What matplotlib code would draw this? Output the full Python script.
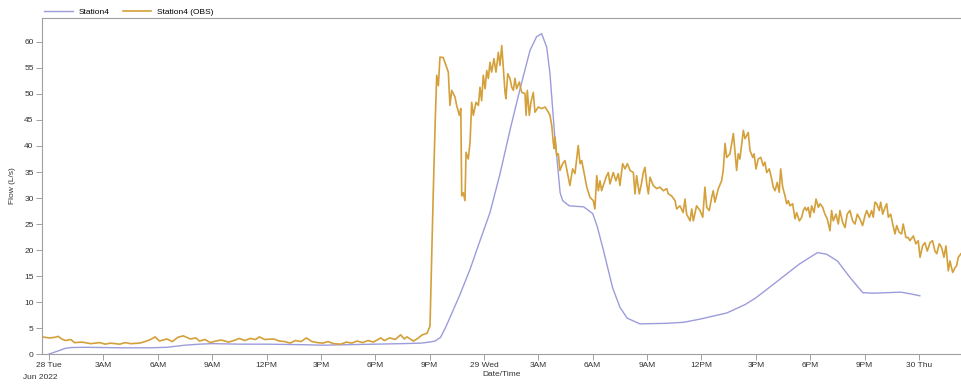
import matplotlib
matplotlib.use("Agg")
import matplotlib.pyplot as plt
import matplotlib.dates as mdates
import pandas as pd

# hours since 28 Jun 2022 00:00
start = pd.Timestamp("2022-06-28 00:00")

model_hours = [0.0, 0.5, 0.9, 1.2, 2.0, 4.0, 5.6, 6.5, 7.0, 7.5, 8.3, 9.0, 10.5,
               12.0, 14.0, 15.1, 16.5, 18.0, 19.5, 20.5, 21.0, 21.3, 21.6, 21.85,
               22.12, 22.68, 23.23, 23.78, 24.33, 24.88, 25.43, 25.99, 26.54, 26.9,
               27.18, 27.46, 27.64, 27.9, 28.0, 28.2, 28.34, 28.7, 29.5,
               30.0, 30.25, 30.6, 31.1, 31.5, 31.9, 32.6, 34.0, 35.0, 35.9, 37.4,
               38.4, 39.0, 40.0, 41.4, 42.4, 42.9, 43.5, 44.2, 44.9, 45.5, 47.0,
               47.5, 48.05]
model_flow = [0.0, 0.6, 1.1, 1.25, 1.3, 1.2, 1.2, 1.3, 1.5, 1.7, 1.9, 2.0, 1.9,
              1.9, 1.8, 1.7, 1.8, 1.9, 2.0, 2.1, 2.3, 2.5, 3.2, 4.9,
              7.0, 11.5, 16.3, 21.8, 27.2, 34.6, 43.0, 51.0, 58.4, 61.0,
              61.6, 59.0, 53.9, 42.0, 38.5, 31.0, 29.5, 28.5, 28.3,
              27.0, 24.5, 19.8, 12.7, 9.0, 6.9, 5.8, 5.9, 6.1, 6.7, 7.9,
              9.5, 10.8, 13.5, 17.3, 19.5, 19.2, 17.9, 14.7, 11.8, 11.7, 11.9,
              11.6, 11.2]

obs_hours = [
    -0.39, 0.0, 0.3, 0.5, 0.7, 0.9, 1.2, 1.4, 1.8, 2.3, 2.8, 3.1, 3.4, 3.9, 4.2,
    4.5, 5.0, 5.3, 5.6, 5.85, 6.1, 6.5, 6.8, 7.1, 7.4, 7.8, 8.1, 8.3, 8.6, 8.9,
    9.2, 9.5, 9.9, 10.2, 10.5, 10.8, 11.1, 11.4, 11.6, 11.9, 12.4, 12.7, 13.0,
    13.3, 13.6, 13.9, 14.2, 14.5, 14.8, 15.1, 15.4, 15.7, 16.1, 16.4, 16.7, 17.0,
    17.3, 17.6, 17.9, 18.3, 18.5, 18.8, 19.1, 19.4, 19.6, 19.75, 20.1, 20.3, 20.6,
    20.86, 21.02, 21.2, 21.3, 21.39, 21.48, 21.57, 21.75, 21.9, 22.03, 22.12,
    22.22, 22.4, 22.49, 22.64, 22.72, 22.77, 22.86, 22.95, 23.01, 23.13, 23.23,
    23.32, 23.41, 23.56, 23.69, 23.78, 23.87, 23.96, 24.06, 24.15, 24.24, 24.33,
    24.42, 24.55, 24.66, 24.79, 24.88, 24.98, 25.07, 25.16, 25.21, 25.31, 25.43,
    25.53, 25.62, 25.71, 25.8, 25.95, 26.08, 26.26, 26.32, 26.39, 26.5, 26.59,
    26.72, 26.81, 27.0, 27.18, 27.37, 27.55, 27.64, 27.74, 27.82, 27.87, 27.92,
    28.01, 28.1, 28.19, 28.34, 28.47, 28.65, 28.74, 28.89, 29.02, 29.2, 29.3,
    29.39, 29.48, 29.67, 29.85, 30.03, 30.12, 30.22, 30.31, 30.4, 30.49, 30.58,
    30.77, 30.86, 30.95, 31.13, 31.28, 31.41, 31.5, 31.65, 31.78, 31.91, 32.06,
    32.24, 32.33, 32.42, 32.57, 32.7, 32.79, 32.88, 32.98, 33.07, 33.16, 33.34,
    33.53, 33.71, 33.89, 34.08, 34.17, 34.35, 34.54, 34.63, 34.81, 34.99, 35.09,
    35.18, 35.37, 35.46, 35.55, 35.73, 35.92, 36.07, 36.19, 36.29, 36.43, 36.56,
    36.65, 36.74, 36.93, 37.11, 37.2, 37.3, 37.39, 37.57, 37.76, 37.94, 38.03,
    38.12, 38.31, 38.4, 38.49, 38.58, 38.68, 38.83, 38.9, 39.01, 39.13, 39.27,
    39.41, 39.5, 39.6, 39.74, 39.87, 39.96, 40.06, 40.18, 40.29, 40.37, 40.48,
    40.61, 40.7, 40.79, 40.88, 41.03, 41.16, 41.25, 41.4, 41.53, 41.62, 41.71,
    41.8, 41.89, 41.99, 42.08, 42.21, 42.32, 42.45, 42.54, 42.69, 42.81, 42.94,
    43.09, 43.18, 43.27, 43.42, 43.55, 43.64, 43.79, 43.92, 44.04, 44.19, 44.34,
    44.47, 44.6, 44.74, 44.89, 45.02, 45.12, 45.26, 45.39, 45.48, 45.57, 45.67,
    45.81, 45.89, 46.0, 46.13, 46.22, 46.31, 46.44, 46.55, 46.68, 46.77, 46.91,
    47.04, 47.13, 47.28, 47.41, 47.5, 47.69, 47.83, 47.96, 48.06, 48.2, 48.33,
    48.46, 48.61, 48.75, 48.88, 48.98, 49.12, 49.25, 49.38, 49.49, 49.62, 49.71,
    49.86, 49.99, 50.08, 50.17, 50.32]
obs_flow = [
    3.3, 3.1, 3.2, 3.4, 2.9, 2.6, 2.8, 2.2, 2.3, 2.0, 2.2, 1.9, 2.1, 1.9, 2.2,
    2.0, 2.1, 2.4, 2.8, 3.3, 2.5, 2.9, 2.4, 3.2, 3.5, 2.9, 3.1, 2.5, 2.8, 2.2,
    2.5, 2.7, 2.3, 2.6, 3.0, 2.6, 3.0, 2.8, 3.3, 2.8, 2.9, 2.5, 2.4,
    2.1, 2.6, 2.4, 3.1, 2.4, 2.2, 2.1, 2.4, 2.0, 1.9, 2.3, 2.1, 2.5,
    2.2, 2.6, 2.3, 3.1, 2.6, 3.1, 2.8, 3.7, 2.9, 3.3, 2.5, 2.9, 3.7,
    4.0, 5.4, 31.0, 43.9, 53.6, 51.6, 57.1, 57.0, 55.5, 54.2, 47.8,
    50.7, 49.4, 47.8, 45.9, 47.2, 30.4, 31.0, 29.5, 38.8, 37.5, 40.7,
    48.4, 45.9, 48.4, 47.8, 51.3, 48.7, 53.6, 51.0, 54.5, 53.0, 56.1,
    54.2, 56.8, 54.2, 58.0, 55.5, 59.3, 54.9, 50.3, 49.1, 53.9, 53.0,
    51.3, 50.7, 53.0, 51.0, 52.3, 50.3, 50.1, 45.9, 50.7, 45.9, 48.4,
    50.3, 46.5, 47.5, 47.2, 47.5, 46.5, 45.9, 43.9, 40.7, 39.5, 41.7,
    38.2, 38.5, 35.3, 36.6, 37.2, 34.0, 32.4, 35.6, 34.7, 40.1, 36.6,
    37.2, 35.6, 32.1, 30.1, 29.5, 27.9, 34.3, 31.4, 33.3, 31.4, 32.4,
    34.3, 34.9, 32.7, 34.9, 33.3, 34.7, 32.4, 36.6, 35.6, 36.6, 35.3,
    34.9, 30.8, 34.3, 30.8, 33.0, 34.9, 35.9, 32.7, 30.8, 34.0, 32.4,
    31.8, 32.1, 31.4, 31.8, 30.8, 30.4, 29.5, 27.9, 28.5, 27.2, 29.8,
    26.9, 25.6, 27.9, 25.6, 28.5, 27.6, 26.3, 32.1, 28.2, 27.6, 30.1,
    31.4, 29.2, 31.8, 33.3, 35.3, 40.5, 37.8, 38.5, 42.4, 35.3, 38.5,
    37.5, 43.0, 41.4, 42.0, 42.6, 39.1, 37.8, 38.5, 35.6, 37.5, 37.8,
    36.2, 36.9, 34.9, 35.6, 33.7, 32.1, 31.4, 33.0, 31.1, 35.6, 32.1,
    30.4, 28.9, 29.5, 28.5, 28.9, 26.0, 27.2, 25.6, 26.3, 27.6, 28.2,
    27.6, 28.2, 26.3, 28.5, 27.2, 29.8, 28.2, 28.9, 28.2, 26.9, 26.0,
    23.7, 27.6, 25.6, 26.9, 25.0, 27.6, 25.3, 24.3, 26.9, 27.6, 25.6,
    25.0, 26.9, 26.0, 24.7, 26.6, 27.6, 26.3, 27.6, 26.3, 29.2, 28.9,
    27.6, 29.2, 26.9, 28.2, 28.9, 26.3, 26.9, 25.0, 23.1, 24.7, 23.4,
    23.1, 25.0, 22.4, 22.4, 21.8, 22.7, 21.2, 21.8, 18.6, 20.8, 21.4,
    19.8, 21.4, 21.8, 19.8, 19.3, 21.2, 20.5, 18.6, 20.8, 16.0, 17.9,
    15.7, 16.6, 17.0, 18.6, 19.3]

model_time = start + pd.to_timedelta(model_hours, unit="h")
obs_time = start + pd.to_timedelta(obs_hours, unit="h")

plt.rcParams["font.family"] = ["Liberation Sans", "DejaVu Sans"]
plt.rcParams["font.size"] = 6

fig = plt.figure(figsize=(9.61, 3.84), dpi=100)
ax = fig.add_axes([0.0437, 0.078, 0.9563, 0.875])

ax.plot(model_time, model_flow, color="#9c9cdc", lw=1.0, label="Station4")
ax.plot(obs_time, obs_flow, color="#d4a03a", lw=1.2, label="Station4 (OBS)")

ax.set_xlim(start - pd.Timedelta(hours=0.39), start + pd.Timedelta(hours=50.32))
ax.set_ylim(0, 64.6)
ax.set_yticks(range(0, 61, 5))


def time_label(x, pos):
    d = mdates.num2date(x)
    if d.hour == 0:
        return d.strftime("%d %a")
    return d.strftime("%I%p").lstrip("0")


ax.xaxis.set_major_locator(mdates.HourLocator(byhour=range(0, 24, 3)))
ax.xaxis.set_major_formatter(plt.FuncFormatter(time_label))

for side in ["left", "bottom", "top"]:
    ax.spines[side].set_color("#a0a0a0")
    ax.spines[side].set_linewidth(0.8)
ax.spines["right"].set_visible(False)
ax.tick_params(colors="#a0a0a0", labelcolor="#333333", length=4.5, width=0.7,
               labelsize=6, pad=1.5)

ax.set_ylabel("Flow (L/s)", fontsize=6, color="#333333", labelpad=6)
ax.set_xlabel("Date/Time", fontsize=6, color="#333333", labelpad=1)
ax.text(start - pd.Timedelta(hours=0.5), -0.06, "Jun 2022",
        transform=ax.get_xaxis_transform(), ha="center", va="top",
        fontsize=6, color="#333333")

ax.legend(loc="lower left", bbox_to_anchor=(0.0, 1.0), ncol=2, frameon=False,
          fontsize=6, handlelength=3.4, handletextpad=0.7, columnspacing=1.6,
          borderaxespad=0.1, borderpad=0.2)

fig.savefig("out.png", dpi=100)
